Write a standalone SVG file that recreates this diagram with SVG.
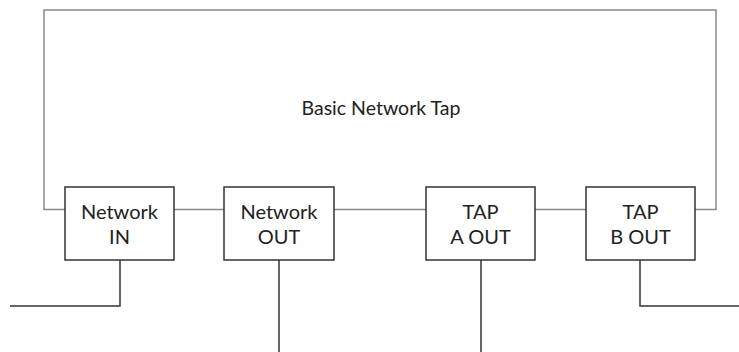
<svg xmlns="http://www.w3.org/2000/svg" width="739" height="352" viewBox="0 0 739 352">
  <style>
    .frame { fill: none; stroke: #8a8a8a; stroke-width: 1.5; }
    .link { fill: none; stroke: #8a8a8a; stroke-width: 1.5; }
    .cable { fill: none; stroke: #333333; stroke-width: 1.5; }
    .port { fill: #ffffff; stroke: #333333; stroke-width: 1.5; }
    .label { font-family: Lato, "Open Sans", sans-serif; font-size: 20px; fill: #222222; text-anchor: middle; }
    .title { font-size: 19.5px; }
  </style>
  <rect width="739" height="352" fill="#ffffff"/>

  <!-- tap housing outline: open at the bottom where the ports sit -->
  <g id="housing">
    <path class="frame" d="M65,209.5 H44 V10 H716 V209.5 H695"/>
    <text class="label title" x="381" y="115">Basic Network Tap</text>
  </g>

  <g id="connectors">
    <!-- internal links between ports -->
    <line class="link" x1="174" y1="209.5" x2="224" y2="209.5"/>
    <line class="link" x1="334" y1="209.5" x2="426" y2="209.5"/>
    <line class="link" x1="535" y1="209.5" x2="586" y2="209.5"/>
    <!-- external cables -->
    <path class="cable" d="M120,260 V306 H10"/>
    <path class="cable" d="M279,260 V352"/>
    <path class="cable" d="M481,260 V352"/>
    <path class="cable" d="M640,260 V306 H739"/>
  </g>

  <g id="network-in">
    <rect class="port" x="65" y="187" width="109" height="73"/>
    <text class="label" x="119.5" y="219">Network</text>
    <text class="label" x="119.5" y="244">IN</text>
  </g>

  <g id="network-out">
    <rect class="port" x="224" y="187" width="110" height="73"/>
    <text class="label" x="279" y="219">Network</text>
    <text class="label" x="279" y="244">OUT</text>
  </g>

  <g id="tap-a-out">
    <rect class="port" x="426" y="187" width="109" height="73"/>
    <text class="label" x="480.5" y="219">TAP</text>
    <text class="label" x="480.5" y="244">A OUT</text>
  </g>

  <g id="tap-b-out">
    <rect class="port" x="586" y="187" width="109" height="73"/>
    <text class="label" x="640.5" y="219">TAP</text>
    <text class="label" x="640.5" y="244">B OUT</text>
  </g>
</svg>
